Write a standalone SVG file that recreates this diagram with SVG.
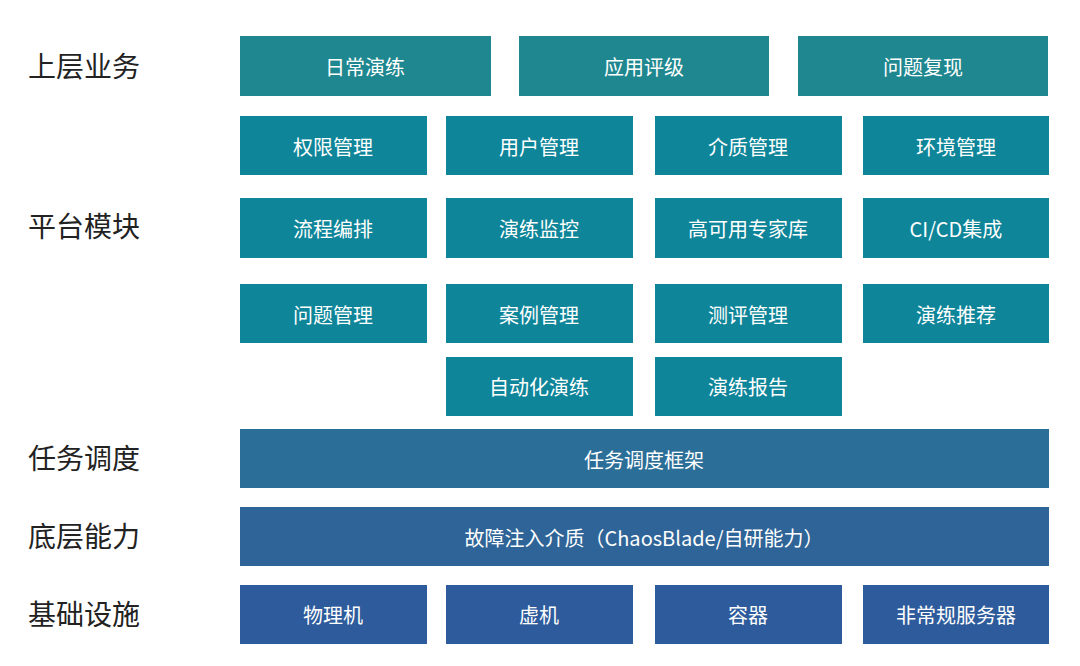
<svg xmlns="http://www.w3.org/2000/svg" width="1080" height="666" viewBox="0 0 1080 666">
<style>
.lbl{font-family:"Noto Sans CJK SC","Noto Sans",sans-serif;font-size:28px;fill:#222}
.t{font-family:"Noto Sans CJK SC","Noto Sans",sans-serif;font-size:20px;fill:#fff;text-anchor:middle;dominant-baseline:central}
.a{fill:#1f878f}.b{fill:#0e8599}.c{fill:#2b6e98}.d{fill:#2e6497}.e{fill:#2d5b9b}
</style>
<rect width="1080" height="666" fill="#fff"/>
<text class="lbl" x="28" y="77">上层业务</text>
<text class="lbl" x="28" y="237">平台模块</text>
<text class="lbl" x="28" y="469">任务调度</text>
<text class="lbl" x="28" y="547">底层能力</text>
<text class="lbl" x="28" y="625">基础设施</text>
<g id="n1"><rect class="a" x="240" y="36" width="251" height="60"/><text class="t" x="365" y="66">日常演练</text></g>
<g id="n2"><rect class="a" x="519" y="36" width="250" height="60"/><text class="t" x="644" y="66">应用评级</text></g>
<g id="n3"><rect class="a" x="798" y="36" width="250" height="60"/><text class="t" x="923" y="66">问题复现</text></g>
<g id="p1"><rect class="b" x="240" y="116" width="187" height="59"/><text class="t" x="333" y="146">权限管理</text></g>
<g id="p2"><rect class="b" x="446" y="116" width="187" height="59"/><text class="t" x="539" y="146">用户管理</text></g>
<g id="p3"><rect class="b" x="655" y="116" width="187" height="59"/><text class="t" x="748" y="146">介质管理</text></g>
<g id="p4"><rect class="b" x="863" y="116" width="186" height="59"/><text class="t" x="956" y="146">环境管理</text></g>
<g id="p5"><rect class="b" x="240" y="198" width="187" height="60"/><text class="t" x="333" y="228">流程编排</text></g>
<g id="p6"><rect class="b" x="446" y="198" width="187" height="60"/><text class="t" x="539" y="228">演练监控</text></g>
<g id="p7"><rect class="b" x="655" y="198" width="187" height="60"/><text class="t" x="748" y="228">高可用专家库</text></g>
<g id="p8"><rect class="b" x="863" y="198" width="186" height="60"/><text class="t" x="956" y="228">CI/CD集成</text></g>
<g id="p9"><rect class="b" x="240" y="284" width="187" height="59"/><text class="t" x="333" y="314">问题管理</text></g>
<g id="p10"><rect class="b" x="446" y="284" width="187" height="59"/><text class="t" x="539" y="314">案例管理</text></g>
<g id="p11"><rect class="b" x="655" y="284" width="187" height="59"/><text class="t" x="748" y="314">测评管理</text></g>
<g id="p12"><rect class="b" x="863" y="284" width="186" height="59"/><text class="t" x="956" y="314">演练推荐</text></g>
<g id="p13"><rect class="b" x="446" y="357" width="187" height="59"/><text class="t" x="539" y="386">自动化演练</text></g>
<g id="p14"><rect class="b" x="655" y="357" width="187" height="59"/><text class="t" x="748" y="386">演练报告</text></g>
<g id="s1"><rect class="c" x="240" y="429" width="809" height="59"/><text class="t" x="644" y="459">任务调度框架</text></g>
<g id="c1"><rect class="d" x="240" y="507" width="809" height="59"/><text class="t" x="644" y="537">故障注入介质（ChaosBlade/自研能力）</text></g>
<g id="i1"><rect class="e" x="240" y="585" width="187" height="59"/><text class="t" x="333" y="614">物理机</text></g>
<g id="i2"><rect class="e" x="446" y="585" width="187" height="59"/><text class="t" x="539" y="614">虚机</text></g>
<g id="i3"><rect class="e" x="655" y="585" width="187" height="59"/><text class="t" x="748" y="614">容器</text></g>
<g id="i4"><rect class="e" x="863" y="585" width="186" height="59"/><text class="t" x="956" y="614">非常规服务器</text></g>
<g id="connectors"/>
</svg>
